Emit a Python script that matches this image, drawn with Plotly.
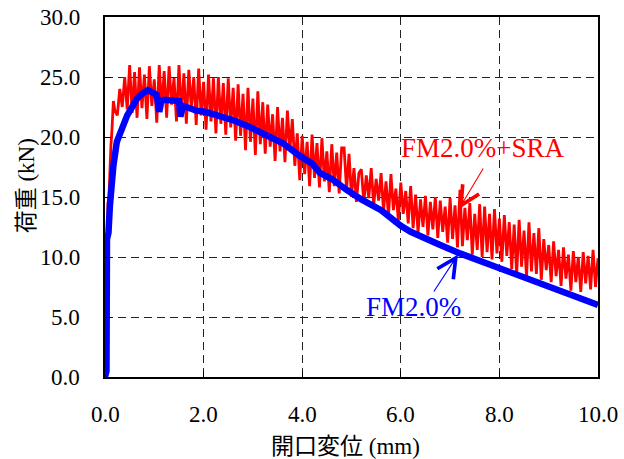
import plotly.graph_objects as go

# FM2.0% (blue)
blue_x = [0, 0.03, 0.04, 0.06, 0.07, 0.1, 0.13, 0.17, 0.24, 0.3, 0.37, 0.45, 0.55, 0.65, 0.75,
          0.87, 0.97, 1.05, 1.1, 1.14, 1.2, 1.3, 1.5, 1.53, 1.58, 1.65, 1.85, 2.03, 2.3, 2.6,
          2.9, 3.29, 3.6, 3.96, 4.2, 4.36, 4.6, 4.9, 5.2, 5.6, 5.8, 6.0, 6.2, 6.5, 6.8, 7.2,
          7.6, 8.0, 8.5, 9.0, 9.5, 10.0]
blue_y = [0, 0.5, 11.5, 11.8, 12.0, 14.3, 15.8, 17.6, 19.6, 20.3, 21.0, 21.8, 22.5, 23.2, 23.6,
          23.9, 23.7, 23.5, 22.1, 23.0, 23.1, 23.1, 23.0, 21.7, 22.6, 22.5, 22.2, 22.1, 21.8, 21.4,
          20.9, 20.2, 19.5, 18.4, 17.8, 17.0, 16.5, 15.6, 14.8, 13.9, 13.2, 12.6, 12.1, 11.5, 11.0, 10.3,
          9.7, 9.1, 8.3, 7.6, 6.8, 6.0]

# FM2.0%+SRA (red)
red_x = [0, 0.04, 0.05, 0.06, 0.08, 0.1, 0.12, 0.14, 0.17, 0.2,
         0.25, 0.30, 0.35, 0.40, 0.45, 0.50, 0.55, 0.60, 0.65, 0.70,
         0.75, 0.80, 0.85, 0.90, 0.95, 1.00, 1.05, 1.10, 1.15, 1.20,
         1.25, 1.30, 1.35, 1.40, 1.45, 1.50, 1.55, 1.60, 1.65, 1.70,
         1.75, 1.80, 1.85, 1.90, 1.95, 2.00, 2.05, 2.10, 2.15, 2.20,
         2.25, 2.30, 2.35, 2.40, 2.45, 2.50, 2.55, 2.60, 2.65, 2.70,
         2.75, 2.80, 2.85, 2.90, 2.95, 3.00, 3.05, 3.10, 3.15, 3.20,
         3.25, 3.30, 3.35, 3.40, 3.45, 3.50, 3.55, 3.60, 3.65, 3.70,
         3.75, 3.80, 3.85, 3.90, 3.95, 4.00, 4.05, 4.10, 4.15, 4.20,
         4.25, 4.30, 4.35, 4.40, 4.45, 4.50, 4.55, 4.60, 4.65, 4.70,
         4.75, 4.80, 4.85, 4.90, 4.95, 5.00, 5.05, 5.10, 5.15, 5.20,
         5.25, 5.30, 5.35, 5.40, 5.45, 5.50, 5.55, 5.60, 5.65, 5.70,
         5.75, 5.80, 5.85, 5.90, 5.95, 6.00, 6.05, 6.10, 6.15, 6.20,
         6.25, 6.30, 6.35, 6.40, 6.45, 6.50, 6.55, 6.60, 6.65, 6.70,
         6.75, 6.80, 6.85, 6.90, 6.95, 7.00, 7.05, 7.10, 7.15, 7.20,
         7.25, 7.30, 7.35, 7.40, 7.45, 7.50, 7.55, 7.60, 7.65, 7.70,
         7.75, 7.80, 7.85, 7.90, 7.95, 8.00, 8.05, 8.10, 8.15, 8.20,
         8.25, 8.30, 8.35, 8.40, 8.45, 8.50, 8.55, 8.60, 8.65, 8.70,
         8.75, 8.80, 8.85, 8.90, 8.95, 9.00, 9.05, 9.10, 9.15, 9.20,
         9.25, 9.30, 9.35, 9.40, 9.45, 9.50, 9.55, 9.60, 9.65, 9.70,
         9.75, 9.80, 9.85, 9.90, 9.95, 10.00]
red_y = [0, 3.3, 12.0, 14.5, 15.0, 18.2, 19.3, 20.5, 23.0, 22.2,
         21.8, 24.0, 22.5, 25.0, 22.3, 26.0, 22.0, 25.4, 21.6, 25.8,
         22.4, 25.2, 21.5, 25.9, 22.6, 24.8, 21.2, 26.0, 22.3, 25.5,
         21.6, 25.9, 22.7, 24.9, 21.3, 26.0, 22.0, 25.3, 21.1, 25.6,
         22.4, 25.0, 21.0, 25.7, 21.8, 24.6, 20.6, 25.2, 21.3, 24.9,
         20.3, 25.0, 21.1, 24.5, 20.2, 24.9, 20.8, 24.1, 19.7, 24.4,
         20.1, 23.6, 18.9, 24.1, 19.6, 23.2, 18.5, 23.8, 19.4, 22.9,
         18.6, 22.7, 19.2, 21.9, 18.0, 22.5, 18.8, 21.6, 17.9, 22.2,
         18.9, 21.5, 17.6, 20.3, 16.4, 20.1, 16.9, 19.6, 15.9, 20.2,
         16.6, 19.5, 15.8, 19.9, 16.3, 18.8, 15.4, 19.4, 15.9, 18.7,
         15.3, 19.1, 19.1, 15.6, 18.6, 15.0, 17.4, 14.6, 17.0, 17.3,
         14.5, 16.8, 14.9, 17.4, 14.3, 16.5, 14.7, 17.0, 13.8, 16.3,
         13.4, 16.9, 13.9, 15.7, 13.0, 16.2, 13.6, 15.5, 12.8, 15.9,
         12.4, 15.2, 12.0, 14.8, 12.5, 15.1, 11.8, 14.6, 12.3, 15.0,
         11.6, 14.7, 12.1, 14.2, 11.2, 14.9, 11.5, 14.3, 10.8, 15.6,
         10.9, 14.1, 11.4, 14.5, 10.2, 13.6, 10.6, 14.4, 10.0, 14.2,
         10.4, 13.6, 9.8, 14.0, 10.3, 13.2, 9.6, 13.5, 10.1, 12.9,
         9.0, 12.7, 8.5, 13.1, 9.2, 12.2, 8.3, 12.9, 8.8, 12.0,
         8.6, 12.4, 8.1, 11.5, 8.9, 11.0, 7.9, 11.3, 8.4, 10.6,
         7.6, 10.8, 8.2, 10.2, 7.2, 10.5, 7.9, 10.0, 7.1, 10.4,
         7.8, 10.1, 7.3, 10.6, 7.5, 9.9]

x_ticks = [0, 2, 4, 6, 8, 10]
x_labels = ["0.0", "2.0", "4.0", "6.0", "8.0", "10.0"]
y_ticks = [0, 5, 10, 15, 20, 25, 30]
y_labels = ["0.0", "5.0", "10.0", "15.0", "20.0", "25.0", "30.0"]

SERIF = "Liberation Serif"
FONT = "Liberation Serif, Noto Sans CJK JP"

fig = go.Figure()
fig.add_trace(go.Scatter(x=red_x, y=red_y, mode="lines",
                         line=dict(color="#ff0000", width=2.8), name="FM2.0%+SRA"))
fig.add_trace(go.Scatter(x=blue_x, y=blue_y, mode="lines",
                         line=dict(color="#0000ff", width=6.5), name="FM2.0%"))

fig.update_xaxes(range=[0, 10], tickvals=x_ticks)
fig.update_yaxes(range=[0, 30], tickvals=y_ticks)
for ax in (fig.layout.xaxis, fig.layout.yaxis):
    ax.showline = True
    ax.linecolor = "black"
    ax.linewidth = 1.5
    ax.mirror = True
    ax.showgrid = True
    ax.gridcolor = "#222222"
    ax.griddash = "8px,5px"
    ax.gridwidth = 1
    ax.ticks = "inside"
    ax.ticklen = 6
    ax.tickcolor = "black"
    ax.zeroline = False
    ax.automargin = False
    ax.showticklabels = False

annotations = []
# tick labels (drawn as text so the serif face is used)
for v, lab in zip(x_ticks, x_labels):
    annotations.append(dict(xref="x", yref="paper", x=v, y=-0.103, text=lab, showarrow=False,
                            xanchor="center", yanchor="middle",
                            font=dict(family=SERIF, size=23, color="black")))
for v, lab in zip(y_ticks, y_labels):
    annotations.append(dict(xref="paper", yref="y", x=-0.046, y=v, text=lab, showarrow=False,
                            xanchor="right", yanchor="middle",
                            font=dict(family=SERIF, size=23, color="black")))

annotations += [
    dict(xref="x", yref="y", x=7.18, y=14.0, axref="x", ayref="y", ax=7.69, ay=17.5,
         text="", showarrow=True, arrowcolor="#ff0000", arrowwidth=1.1,
         arrowhead=5, arrowsize=3.4),
    dict(xref="x", yref="y", x=7.67, y=19.1, text="FM2.0%+SRA", showarrow=False,
         font=dict(family=SERIF, size=27, color="#ff0000")),
    dict(xref="x", yref="y", x=7.16, y=10.2, axref="x", ayref="y", ax=6.65, ay=7.0,
         text="", showarrow=True, arrowcolor="#0000ff", arrowwidth=1.1,
         arrowhead=5, arrowsize=3.4),
    dict(xref="x", yref="y", x=6.25, y=5.8, text="FM2.0%", showarrow=False,
         font=dict(family=SERIF, size=27, color="#0000ff")),
    dict(xref="paper", yref="paper", x=0.487, y=-0.192, text="開口変位 (mm)",
         showarrow=False, xanchor="center", yanchor="middle",
         font=dict(family=FONT, size=23, color="black")),
    dict(xref="paper", yref="paper", x=-0.16, y=0.53, text="荷重 (kN)", textangle=-90,
         showarrow=False, xanchor="center", yanchor="middle",
         font=dict(family=FONT, size=23, color="black")),
]

fig.update_layout(
    width=624, height=459,
    margin=dict(l=105, r=26, t=17, b=82),
    paper_bgcolor="white", plot_bgcolor="white",
    showlegend=False,
    font=dict(family=SERIF, size=23, color="black"),
    annotations=annotations,
)

fig.write_html("out.html", config={"displayModeBar": False},
               post_script="document.body.style.margin='0px';")
